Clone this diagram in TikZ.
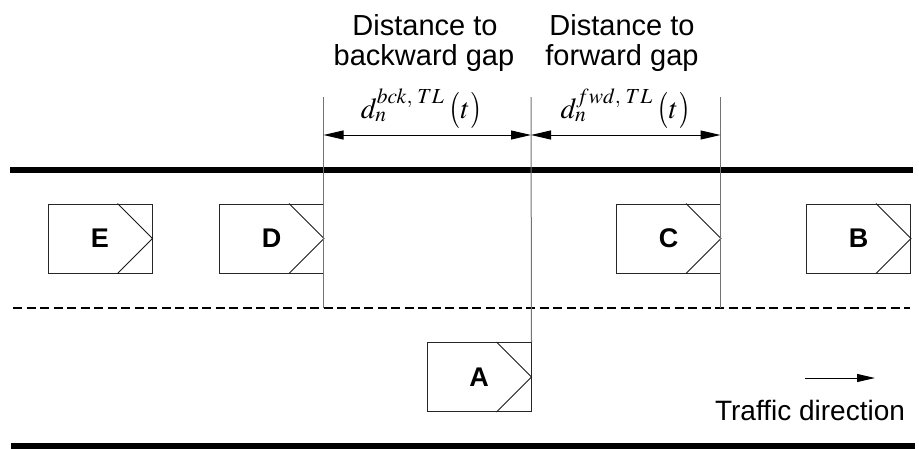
\documentclass[tikz,border=0pt]{standalone}
\usepackage{mathptmx}
\usepackage{graphicx}
\usepackage[no-math]{fontspec}
\setmainfont{Liberation Sans}
\usetikzlibrary{arrows.meta}
\newcommand{\lpar}{\raisebox{-1.5pt}{\scalebox{1}[1.25]{$($}}}
\newcommand{\rpar}{\raisebox{-1.5pt}{\scalebox{1}[1.25]{$)$}}}
\begin{document}
\begin{tikzpicture}[x=1pt,y=-1pt,
  veh/.style={draw=black!85, line width=1pt, minimum width=104pt, minimum height=69pt, inner sep=0pt,
    font=\fontsize{27}{27}\selectfont\bfseries},
  chev/.style={line width=0.9pt, draw=black!90},
  road/.style={line width=6pt},
  lane/.style={line width=1.2pt, dash pattern=on 9pt off 4.5pt},
  guide/.style={draw=black!55, line width=1pt},
  dimarr/.style={line width=1pt, {Triangle[length=20pt,width=9pt]}-{Triangle[length=20pt,width=9pt]}},
  lbl/.style={font=\fontsize{29}{30}\selectfont, anchor=base, inner sep=0pt},
  mlbl/.style={font=\fontsize{29}{30}\selectfont, anchor=base, inner sep=0pt}
]
\useasboundingbox (0,0) rectangle (919,448);

% roads
\coordinate (rt1) at (10,170); \coordinate (rt2) at (913,170);
\coordinate (rb1) at (11,445.5); \coordinate (rb2) at (915,445.5);
\coordinate (ln1) at (13,308); \coordinate (ln2) at (910,308);
\draw[road] (rt1) -- (rt2);
\draw[road] (rb1) -- (rb2);
\draw[lane] (ln1) -- (ln2);

% vehicles
\node[veh] (E) at (100,238.5) {E};
\node[veh] (D) at (271.5,238.5) {D};
\node[veh] (C) at (668.5,238.5) {C};
\node[veh] (B) at (858.5,238.5) {B};
\node[veh] (A) at (479,377) {A};
\foreach \v in {E,D,C,B,A}
  \draw[chev] ([xshift=-35pt]\v.north east) -- (\v.east) -- ([xshift=-35pt]\v.south east);

% guide lines
\coordinate (g1t) at (323.5,97); \coordinate (g1b) at (323.5,308);
\coordinate (g2t) at (531,97);
\coordinate (g3t) at (720.5,97); \coordinate (g3b) at (720.5,308);
\draw[guide] (g1t) -- (g1b);
\draw[guide] (g2t) -- (A.north east);
\draw[guide] (g3t) -- (g3b);

% dimension arrows
\coordinate (a1) at (323.5,135); \coordinate (a2) at (531,135); \coordinate (a3) at (720.5,135);
\draw[dimarr] (a1) -- (a2);
\draw[dimarr] (a2) -- (a3);

% labels
\node[lbl] (t1a) at (425,35) {Distance to};
\node[lbl] (t1b) at (424,65) {backward gap};
\node[lbl] (t2a) at (622,35) {Distance to};
\node[lbl] (t2b) at (622,65) {forward gap};
\node[mlbl] (m1) at (421,118) {$d_n^{bck,\;TL}$\,\lpar$t$\rpar};
\node[mlbl] (m2) at (625,118) {$d_n^{fwd,\;TL}$\,\lpar$t$\rpar};

% traffic direction
\coordinate (tr1) at (805,378); \coordinate (tr2) at (875,378);
\draw[line width=1pt, -{Triangle[length=18pt,width=8pt]}] (tr1) -- (tr2);
\node[font=\fontsize{28}{30}\selectfont, anchor=base, inner sep=0pt] (td) at (810,420) {Traffic direction};
\end{tikzpicture}
\end{document}
